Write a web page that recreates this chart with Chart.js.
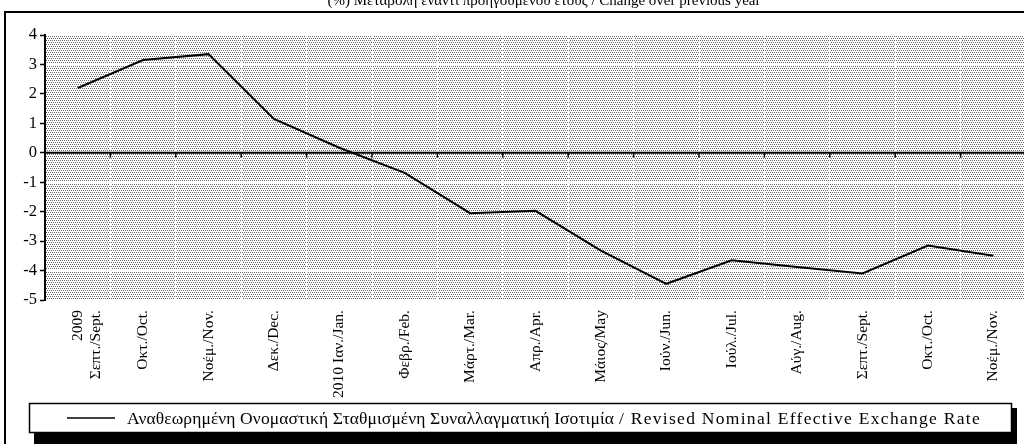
<!DOCTYPE html>
<html>
<head>
<meta charset="utf-8">
<script src="https://cdn.jsdelivr.net/npm/chart.js@4"></script>
<style>
  html, body { margin: 0; padding: 0; background: #fff; overflow: hidden; }
  #wrap { position: relative; width: 1040px; height: 444px; }
</style>
</head>
<body>
<div id="wrap"><canvas id="chart" width="1040" height="444"></canvas></div>
<script>
// μήνες
const months = [
    ['2009', 'Σεπτ./Sept.'], 'Οκτ./Oct.', 'Νοέμ./Nov.', 'Δεκ./Dec.', '2010 Ιαν./Jan.',
    'Φεβρ./Feb.', 'Μάρτ./Mar.', 'Απρ./Apr.', 'Μάιος/May', 'Ιούν./Jun.',
    'Ιούλ./Jul.', 'Αύγ./Aug.', 'Σεπτ./Sept.', 'Οκτ./Oct.', 'Νοέμ./Nov.'
];
const neerValues = [2.2, 3.15, 3.35, 1.15, 0.17, -0.68, -2.05, -1.97, -3.32, -4.45, -3.65, -3.88, -4.1, -3.15, -3.5];
const seriesName = 'Αναθεωρημένη Ονομαστική Σταθμισμένη Συναλλαγματική Ισοτιμία / Revised Nominal Effective Exchange Rate';
const chartTitle = '(%) Μεταβολή έναντι προηγούμενου έτους / Change over previous year';
const yMin = -5, yMax = 4;

const serif = 'Liberation Serif';

// dotted background like the old Excel fill
function makePattern(ctx) {
    const p = document.createElement('canvas');
    p.width = 4; p.height = 4;
    const pc = p.getContext('2d');
    pc.fillStyle = '#ffffff';
    pc.fillRect(0, 0, 4, 4);
    pc.fillStyle = '#6a6a6a';
    pc.fillRect(0, 0, 1, 1);
    pc.fillRect(2, 0, 1, 1);
    pc.fillRect(1, 2, 1, 1);
    pc.fillRect(3, 2, 1, 1);
    return ctx.createPattern(p, 'repeat');
}

// write text so that it spans from x0 to x1
function fitText(ctx, text, x0, x1, y) {
    ctx.letterSpacing = '0px';
    const w = ctx.measureText(text).width;
    ctx.letterSpacing = ((x1 - x0 - w) / text.length) + 'px';
    ctx.fillText(text, x0, y);
    ctx.letterSpacing = '0px';
}

const decor = {
    id: 'decor',
    beforeDraw(chart) {
        const { ctx, chartArea: a } = chart;
        ctx.save();
        ctx.fillStyle = makePattern(ctx);
        ctx.fillRect(a.left, a.top, a.right - a.left, a.bottom - a.top);
        ctx.restore();
    },
    beforeDatasetsDraw(chart) {
        // zero axis with the category tick marks
        const { ctx, chartArea: a, scales } = chart;
        const y0 = scales.y.getPixelForValue(0);
        ctx.save();
        ctx.strokeStyle = '#000';
        ctx.lineWidth = 2;
        ctx.beginPath();
        ctx.moveTo(a.left, y0);
        ctx.lineTo(a.right, y0);
        ctx.stroke();
        ctx.lineWidth = 1.5;
        const n = chart.data.labels.length;
        for (let i = 1; i < n; i++) {
            const x = (scales.x.getPixelForValue(i - 1) + scales.x.getPixelForValue(i)) / 2;
            ctx.beginPath();
            ctx.moveTo(x, y0);
            ctx.lineTo(x, y0 + 5);
            ctx.stroke();
        }
        ctx.restore();
    },
    afterDraw(chart) {
        const { ctx } = chart;
        ctx.save();
        // frame
        ctx.strokeStyle = '#000';
        ctx.lineWidth = 2;
        ctx.strokeRect(5, 12, 1100, 500);
        // title, cut at the top like the source
        ctx.fillStyle = '#000';
        ctx.font = '15px "' + serif + '"';
        ctx.textAlign = 'center';
        ctx.textBaseline = 'alphabetic';
        ctx.fillText(chartTitle, 544, 5);
        // legend box with shadow
        ctx.fillStyle = '#000';
        ctx.fillRect(34, 408, 983, 36);
        ctx.fillStyle = '#fff';
        ctx.fillRect(29, 403, 983, 30);
        ctx.lineWidth = 1.5;
        ctx.strokeRect(29.5, 403.5, 982, 29);
        ctx.beginPath();
        ctx.moveTo(67, 418);
        ctx.lineTo(115, 418);
        ctx.stroke();
        const label = chart.data.datasets[0].label;
        const cut = label.indexOf(' / ');
        ctx.fillStyle = '#000';
        ctx.font = '17.5px "' + serif + '"';
        ctx.textAlign = 'left';
        ctx.textBaseline = 'middle';
        fitText(ctx, label.slice(0, cut), 127, 614, 419);
        fitText(ctx, label.slice(cut + 1), 619, 981, 419);
        ctx.restore();
    }
};

new Chart(document.getElementById('chart'), {
    type: 'line',
    data: {
        labels: months,
        datasets: [{
            label: seriesName,
            data: neerValues,
            borderColor: '#000',
            borderWidth: 2,
            pointRadius: 0,
            tension: 0,
            fill: false
        }]
    },
    options: {
        responsive: false,
        animation: false,
        devicePixelRatio: 1,
        layout: { padding: { left: 0, right: 14, top: 35, bottom: 0 } },
        plugins: {
            legend: { display: false },
            tooltip: { enabled: false }
        },
        scales: {
            x: {
                offset: true,
                grid: { color: '#fff', lineWidth: 1, offset: true, drawTicks: false },
                border: { display: false },
                ticks: {
                    color: '#000',
                    font: { family: serif, size: 15.5 },
                    minRotation: 90,
                    maxRotation: 90,
                    autoSkip: false,
                    padding: 10
                },
                afterFit(scale) { scale.height = 144; }
            },
            y: {
                min: yMin,
                max: yMax,
                grid: { color: '#fff', lineWidth: 1, tickColor: '#000', tickLength: 5, tickWidth: 1.5 },
                border: { color: '#000', width: 2 },
                ticks: {
                    stepSize: 1,
                    color: '#000',
                    font: { family: serif, size: 16.5 },
                    padding: 3
                },
                afterFit(scale) { scale.width = 45; }
            }
        }
    },
    plugins: [decor]
});
</script>
</body>
</html>
